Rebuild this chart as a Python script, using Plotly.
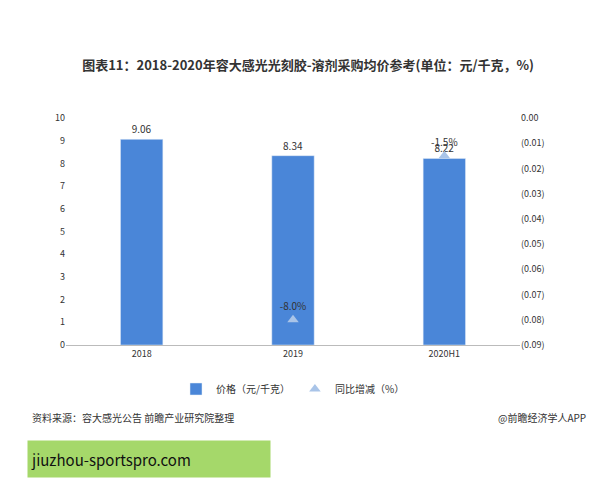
import plotly.graph_objects as go

categories = ["2018", "2019", "2020H1"]
prices = [9.06, 8.34, 8.22]
growth_cats = ["2019", "2020H1"]
growth = [-0.080, -0.015]
growth_labels = ["-8.0%", "-1.5%"]
right_ticks = [0, -0.01, -0.02, -0.03, -0.04, -0.05, -0.06, -0.07, -0.08, -0.09]
right_labels = ["0.00"] + ["(%.2f)" % abs(v) for v in right_ticks[1:]]

F = "Noto Sans CJK SC"
fig = go.Figure()
fig.add_bar(x=categories, y=prices, name="价格（元/千克）", marker_color="#4a86d8",
            width=0.28, text=[f"{v:.2f}" for v in prices], textposition="outside",
            textfont=dict(size=10, color="#333"), cliponaxis=False)
fig.add_scatter(x=growth_cats, y=growth, name="同比增减（%）", yaxis="y2", mode="markers+text",
                marker=dict(symbol="triangle-up", size=10, color="#a9c4e8"),
                text=growth_labels, textposition="top center",
                textfont=dict(size=10, color="#333"), cliponaxis=False)
fig.update_layout(
    width=600, height=480, plot_bgcolor="white", paper_bgcolor="white",
    font=dict(family=F, size=10, color="#333"),
    title=dict(text="<b>图表11：2018-2020年容大感光光刻胶-溶剂采购均价参考(单位：元/千克，%)</b>",
               x=0.5, y=0.88, yanchor="middle", xanchor="center", font=dict(size=13, color="#333")),
    margin=dict(l=58, r=88, t=110, b=143),
    xaxis=dict(showline=True, linecolor="#bbb", tickfont=dict(size=9)),
    yaxis=dict(range=[0, 10], dtick=1, showgrid=False, tickfont=dict(size=9)),
    yaxis2=dict(overlaying="y", side="right", range=[-0.09, 0], tickvals=right_ticks,
                ticktext=right_labels, showgrid=False, tickfont=dict(size=9)),
    showlegend=True,
    legend=dict(orientation="h", x=0.5, xanchor="center", y=-0.13, font=dict(size=10)),
    bargap=0.5,
)
fig.add_annotation(text="资料来源：容大感光公告 前瞻产业研究院整理", xref="paper", yref="paper",
                   x=-0.08, y=-0.36, xanchor="left", showarrow=False, font=dict(size=10))
fig.add_annotation(text="@前瞻经济学人APP", xref="paper", yref="paper",
                   x=1.15, y=-0.36, xanchor="right", showarrow=False, font=dict(size=10))
fig.add_annotation(text="jiuzhou-sportspro.com", xref="paper", yref="paper",
                   x=-0.085, y=-0.42, xanchor="left", yanchor="top", showarrow=False,
                   font=dict(size=15, color="#111"), bgcolor="#a5d86a",
                   width=236, height=30, align="left", borderpad=3)
fig.write_html("out.html")
